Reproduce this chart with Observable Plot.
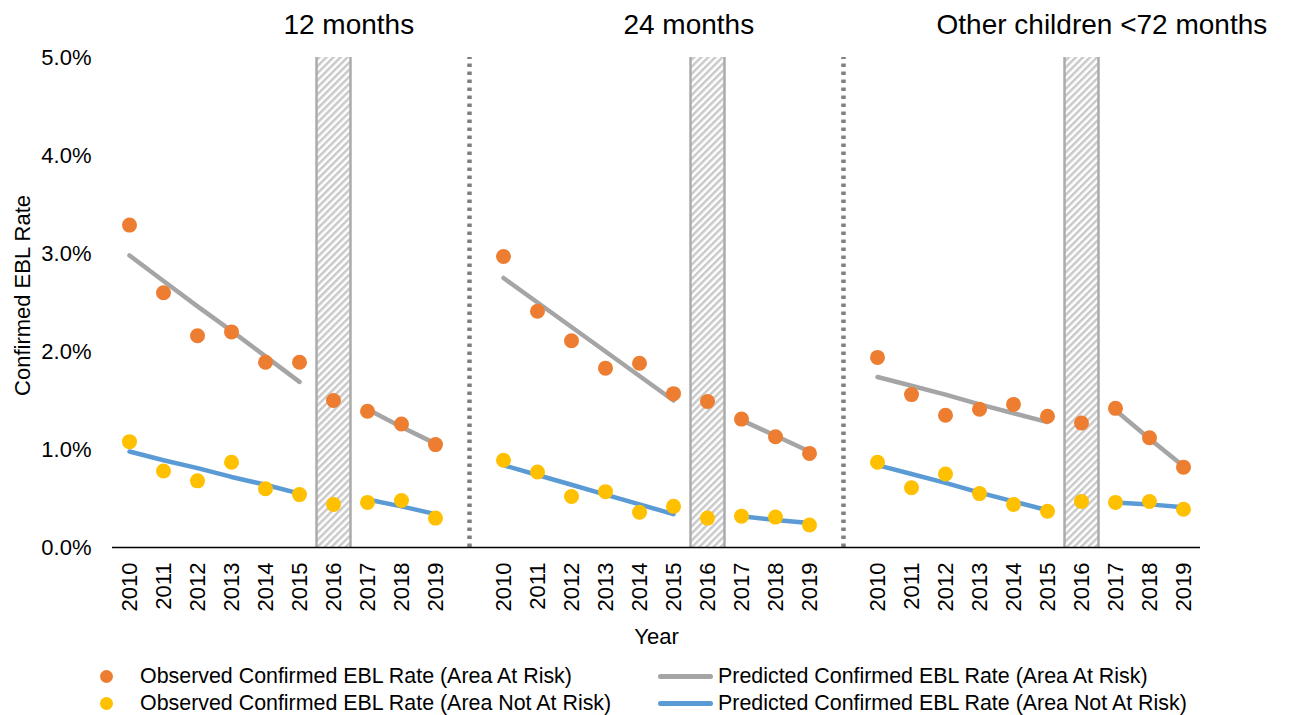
<!DOCTYPE html>
<html>
<head>
<meta charset="utf-8">
<script src="https://cdn.jsdelivr.net/npm/d3@7"></script>
<script src="https://cdn.jsdelivr.net/npm/@observablehq/plot@0.6"></script>
<style>
  html, body { margin: 0; padding: 0; background: #fff; }
  body { width: 1290px; height: 715px; overflow: hidden; font-family: "Liberation Sans", Arial, sans-serif; }
  #legend { position: relative; height: 55px; font-size: 21.4px; color: #000; }
  .item { position: absolute; display: flex; align-items: center; height: 27px; white-space: nowrap; }
  .dot { width: 13px; height: 13px; border-radius: 50%; display: inline-block; }
  .ln { width: 55px; height: 5px; border-radius: 3px; display: inline-block; }
</style>
</head>
<body>
<div id="chart"></div>
<div id="legend"></div>
<script>
// ---- data ----
const years = [2010, 2011, 2012, 2013, 2014, 2015, 2016, 2017, 2018, 2019];
const panels = ["12 months", "24 months", "Other children <72 months"];
const excludedYear = 2016;

// Observed confirmed EBL rate (%), area at risk, one row per panel
const obsAtRisk = [
  [3.29, 2.60, 2.16, 2.20, 1.89, 1.89, 1.50, 1.39, 1.26, 1.05],
  [2.97, 2.41, 2.11, 1.83, 1.88, 1.57, 1.49, 1.31, 1.13, 0.96],
  [1.94, 1.56, 1.35, 1.41, 1.46, 1.34, 1.27, 1.42, 1.12, 0.82]
];
// Observed confirmed EBL rate (%), area not at risk
const obsNotAtRisk = [
  [1.08, 0.78, 0.68, 0.87, 0.60, 0.54, 0.44, 0.46, 0.48, 0.30],
  [0.89, 0.77, 0.52, 0.57, 0.36, 0.42, 0.30, 0.32, 0.31, 0.23],
  [0.87, 0.61, 0.75, 0.55, 0.44, 0.37, 0.47, 0.46, 0.47, 0.39]
];
// Predicted confirmed EBL rate (%), area at risk (no prediction for 2016)
const predAtRisk = [
  [2.98, 2.72, 2.46, 2.21, 1.95, 1.69, null, 1.41, 1.23, 1.06],
  [2.75, 2.50, 2.25, 2.00, 1.75, 1.50, null, 1.30, 1.14, 0.98],
  [1.74, 1.65, 1.56, 1.46, 1.37, 1.28, null, 1.40, 1.11, 0.83]
];
// Predicted confirmed EBL rate (%), area not at risk
const predNotAtRisk = [
  [0.98, 0.89, 0.81, 0.72, 0.64, 0.55, null, 0.49, 0.42, 0.34],
  [0.84, 0.74, 0.64, 0.54, 0.44, 0.34, null, 0.32, 0.28, 0.25],
  [0.84, 0.75, 0.66, 0.56, 0.47, 0.38, null, 0.46, 0.44, 0.41]
];
const yTicks = [0, 1, 2, 3, 4, 5];

// ---- styling / layout constants ----
const C_ORANGE = "#ED7D31", C_YELLOW = "#FFC000", C_GREY = "#A5A5A5", C_BLUE = "#5B9BD5";
const slotsPerPanel = years.length + 1;          // one empty slot between panels
const titleSlot = [6.45, 16.45, 28.6];           // title anchor (slot units)

// ---- build table ----
const rows = [];
panels.forEach((p, pi) => {
  years.forEach((yr, i) => {
    rows.push({
      panel: p, year: yr, idx: pi * slotsPerPanel + i,
      obsRisk: obsAtRisk[pi][i], obsNot: obsNotAtRisk[pi][i],
      predRisk: predAtRisk[pi][i], predNot: predNotAtRisk[pi][i]
    });
  });
});
const tickIdx = rows.map(d => d.idx);
const yearByIdx = new Map(rows.map(d => [d.idx, d.year]));
const hatchRows = rows.filter(d => d.year === excludedYear);
const separators = panels.slice(1).map((p, pi) => (pi + 1) * slotsPerPanel - 1);
const titles = panels.map((p, pi) => ({panel: p, slot: titleSlot[pi]}));

const font = "'Liberation Sans', Arial, sans-serif";

const plot = Plot.plot({
  width: 1290,
  height: 660,
  marginLeft: 112,
  marginRight: 90,
  marginTop: 57,
  marginBottom: 113,
  style: {fontFamily: font, fontSize: "22px", color: "#000", background: "#fff", overflow: "visible"},
  x: {type: "linear", domain: [-0.5, slotsPerPanel * panels.length - 1.5]},
  y: {domain: [0, 5]},
  marks: [
    // excluded-year hatched bands
    Plot.rect(hatchRows, {x1: d => d.idx - 0.5, x2: d => d.idx + 0.5, y1: 0, y2: 5, fill: "url(#hatch)"}),
    Plot.ruleX(hatchRows, {x: d => d.idx - 0.5, y1: 0, y2: 5, stroke: "#ABABAB", strokeWidth: 2.5}),
    Plot.ruleX(hatchRows, {x: d => d.idx + 0.5, y1: 0, y2: 5, stroke: "#ABABAB", strokeWidth: 2.5}),
    // panel separators
    Plot.ruleX(separators, {y1: 0, y2: 5, stroke: "#808080", strokeWidth: 4.5, strokeDasharray: "3.5,4.5"}),
    // axes
    Plot.axisY({ticks: yTicks, tickSize: 0, tickPadding: 21, tickFormat: d => d.toFixed(1) + "%", fontSize: 22, label: null}),
    Plot.axisX({ticks: tickIdx, tickSize: 0, tickPadding: 15, tickRotate: -90, tickFormat: d => String(yearByIdx.get(d) ?? ""), fontSize: 22, label: null}),
    Plot.ruleY([0], {stroke: "#000", strokeWidth: 1.6}),
    // predicted lines
    Plot.line(rows, {x: "idx", y: "predRisk", z: "panel", stroke: C_GREY, strokeWidth: 4.5, strokeLinecap: "round"}),
    Plot.line(rows, {x: "idx", y: "predNot", z: "panel", stroke: C_BLUE, strokeWidth: 4.5, strokeLinecap: "round"}),
    // observed points
    Plot.dot(rows, {x: "idx", y: "obsRisk", r: 7.5, fill: C_ORANGE}),
    Plot.dot(rows, {x: "idx", y: "obsNot", r: 7.5, fill: C_YELLOW}),
    // panel titles
    Plot.text(titles, {x: "slot", text: "panel", frameAnchor: "top", lineAnchor: "middle", dy: -32, fontSize: 28, fill: "#000"}),
    // axis titles
    Plot.text(["Year"], {text: d => d, frameAnchor: "bottom", lineAnchor: "middle", dy: 89, fontSize: 22, fill: "#000"}),
    Plot.text(["Confirmed EBL Rate"], {text: d => d, frameAnchor: "left", textAnchor: "middle", lineAnchor: "middle", dx: -90, dy: -7, rotate: -90, fontSize: 22, fill: "#000"})
  ]
});

// hatch pattern
const ns = "http://www.w3.org/2000/svg";
const defs = document.createElementNS(ns, "defs");
defs.innerHTML = `<pattern id="hatch" patternUnits="userSpaceOnUse" width="5" height="5" patternTransform="rotate(45)">
  <rect width="5" height="5" fill="#ffffff"/>
  <line x1="1.25" y1="0" x2="1.25" y2="5" stroke="#C9C9C9" stroke-width="2.5"/>
</pattern>`;
plot.insertBefore(defs, plot.firstChild);
document.getElementById("chart").appendChild(plot);

// legend
const legendItems = [
  {label: "Observed Confirmed EBL Rate (Area At Risk)", kind: "dot", color: C_ORANGE, left: 100, top: 3},
  {label: "Observed Confirmed EBL Rate (Area Not At Risk)", kind: "dot", color: C_YELLOW, left: 100, top: 30},
  {label: "Predicted Confirmed EBL Rate (Area At Risk)", kind: "ln", color: C_GREY, left: 658, top: 3},
  {label: "Predicted Confirmed EBL Rate (Area Not At Risk)", kind: "ln", color: C_BLUE, left: 658, top: 30}
];
const lg = document.getElementById("legend");
legendItems.forEach(it => {
  const div = document.createElement("div");
  div.className = "item";
  div.style.left = it.left + "px";
  div.style.top = it.top + "px";
  const sw = document.createElement("span");
  sw.className = it.kind;
  sw.style.background = it.color;
  sw.style.marginRight = it.kind === "dot" ? "27px" : "5px";
  const tx = document.createElement("span");
  tx.textContent = it.label;
  div.appendChild(sw);
  div.appendChild(tx);
  lg.appendChild(div);
});
</script>
</body>
</html>
